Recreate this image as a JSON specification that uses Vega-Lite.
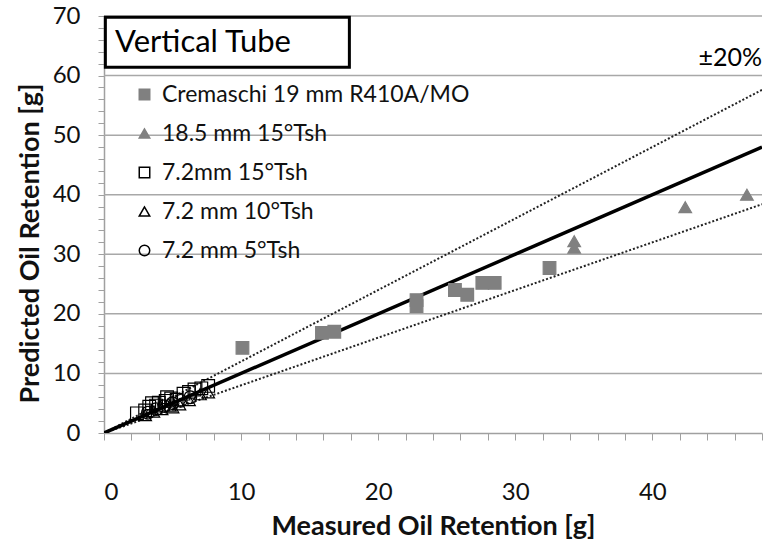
{
  "$schema": "https://vega.github.io/schema/vega-lite/v6.json",
  "width": 658,
  "height": 417,
  "autosize": {"type": "none"},
  "padding": {"left": 104, "top": 16, "right": 5, "bottom": 113},
  "background": "white",
  "config": {
    "font": "Lato",
    "view": {"stroke": null}
  },
  "datasets": {
    "pts": [
      {"series": "Cremaschi 19 mm R410A/MO", "measured": 10.1, "predicted": 14.3},
      {"series": "Cremaschi 19 mm R410A/MO", "measured": 15.9, "predicted": 16.8},
      {"series": "Cremaschi 19 mm R410A/MO", "measured": 16.8, "predicted": 17.0},
      {"series": "Cremaschi 19 mm R410A/MO", "measured": 22.8, "predicted": 21.3},
      {"series": "Cremaschi 19 mm R410A/MO", "measured": 22.8, "predicted": 22.3},
      {"series": "Cremaschi 19 mm R410A/MO", "measured": 25.6, "predicted": 24.0},
      {"series": "Cremaschi 19 mm R410A/MO", "measured": 26.5, "predicted": 23.2},
      {"series": "Cremaschi 19 mm R410A/MO", "measured": 27.6, "predicted": 25.2},
      {"series": "Cremaschi 19 mm R410A/MO", "measured": 28.5, "predicted": 25.2},
      {"series": "Cremaschi 19 mm R410A/MO", "measured": 32.5, "predicted": 27.7},
      {"series": "18.5 mm 15°Tsh", "measured": 34.3, "predicted": 32.2},
      {"series": "18.5 mm 15°Tsh", "measured": 34.3, "predicted": 31.1},
      {"series": "18.5 mm 15°Tsh", "measured": 42.4, "predicted": 37.9},
      {"series": "18.5 mm 15°Tsh", "measured": 46.9, "predicted": 40.0},
      {"series": "7.2mm 15°Tsh", "measured": 2.4, "predicted": 3.3},
      {"series": "7.2mm 15°Tsh", "measured": 3.0, "predicted": 3.8},
      {"series": "7.2mm 15°Tsh", "measured": 3.3, "predicted": 4.4},
      {"series": "7.2mm 15°Tsh", "measured": 3.8, "predicted": 4.6},
      {"series": "7.2mm 15°Tsh", "measured": 4.0, "predicted": 5.1},
      {"series": "7.2mm 15°Tsh", "measured": 4.5, "predicted": 5.4},
      {"series": "7.2mm 15°Tsh", "measured": 4.9, "predicted": 5.8},
      {"series": "7.2mm 15°Tsh", "measured": 5.3, "predicted": 5.6},
      {"series": "7.2mm 15°Tsh", "measured": 5.8, "predicted": 6.6},
      {"series": "7.2mm 15°Tsh", "measured": 6.2, "predicted": 6.9},
      {"series": "7.2mm 15°Tsh", "measured": 6.6, "predicted": 7.3},
      {"series": "7.2mm 15°Tsh", "measured": 7.1, "predicted": 7.5},
      {"series": "7.2mm 15°Tsh", "measured": 7.6, "predicted": 7.9},
      {"series": "7.2mm 15°Tsh", "measured": 3.5, "predicted": 5.0},
      {"series": "7.2mm 15°Tsh", "measured": 4.6, "predicted": 6.0},
      {"series": "7.2 mm 10°Tsh", "measured": 3.0, "predicted": 3.0},
      {"series": "7.2 mm 10°Tsh", "measured": 3.6, "predicted": 3.6},
      {"series": "7.2 mm 10°Tsh", "measured": 4.2, "predicted": 4.0},
      {"series": "7.2 mm 10°Tsh", "measured": 5.0, "predicted": 4.3},
      {"series": "7.2 mm 10°Tsh", "measured": 5.5, "predicted": 4.8},
      {"series": "7.2 mm 10°Tsh", "measured": 6.2, "predicted": 5.5},
      {"series": "7.2 mm 10°Tsh", "measured": 7.0, "predicted": 6.5},
      {"series": "7.2 mm 10°Tsh", "measured": 7.6, "predicted": 6.8},
      {"series": "7.2 mm 10°Tsh", "measured": 4.8, "predicted": 4.6},
      {"series": "7.2 mm 5°Tsh", "measured": 3.2, "predicted": 3.4},
      {"series": "7.2 mm 5°Tsh", "measured": 3.8, "predicted": 4.0},
      {"series": "7.2 mm 5°Tsh", "measured": 4.4, "predicted": 4.5},
      {"series": "7.2 mm 5°Tsh", "measured": 5.0, "predicted": 5.0},
      {"series": "7.2 mm 5°Tsh", "measured": 5.6, "predicted": 5.4},
      {"series": "7.2 mm 5°Tsh", "measured": 6.3, "predicted": 6.0}
    ],
    "lines": [
      {"line": "exact", "measured": 0, "predicted": 0},
      {"line": "exact", "measured": 48, "predicted": 48},
      {"line": "plus20", "measured": 0, "predicted": 0},
      {"line": "plus20", "measured": 48, "predicted": 57.6},
      {"line": "minus20", "measured": 0, "predicted": 0},
      {"line": "minus20", "measured": 48, "predicted": 38.4}
    ],
    "grid": [
      {"predicted": 10}, {"predicted": 20}, {"predicted": 30}, {"predicted": 40},
      {"predicted": 50}, {"predicted": 60}, {"predicted": 70}
    ],
    "box": [{"x1": 0.1, "x2": 17.9, "y1": 61.4, "y2": 69.8}],
    "labels": [
      {"kind": "title", "measured": 0.8, "predicted": 65.5, "text": "Vertical Tube"},
      {"kind": "pct", "measured": 48, "predicted": 63.0, "text": "±20%"}
    ]
  },
  "layer": [
    {
      "data": {"name": "grid"},
      "mark": {"type": "rule", "color": "#a8a8a8", "strokeWidth": 1.5},
      "encoding": {
        "y": {"field": "predicted", "type": "quantitative", "scale": {"domain": [0, 70], "nice": false},
          "axis": {
            "values": [0,2,4,6,8,10,12,14,16,18,20,22,24,26,28,30,32,34,36,38,40,42,44,46,48,50,52,54,56,58,60,62,64,66,68,70],
            "tickCount": 200,
            "format": "d",
            "labelExpr": "datum.value % 10 === 0 ? format(datum.value, 'd') : ''",
            "labelOverlap": false,
            "labelSeparation": 0,
            "grid": false,
            "domainColor": "#a0a0a0", "domainWidth": 1.5,
            "tickColor": "#a0a0a0", "tickSize": 6, "tickWidth": 1,
            "labelFontSize": 24, "labelColor": "#111111", "labelPadding": 18, "labelFont": "Lato",
            "title": "Predicted Oil Retention [g]",
            "titleFontSize": 27, "titleFontWeight": "bold", "titleColor": "#111111", "titlePadding": 8, "titleFont": "Lato",
            "titleY": 227
          }}
      }
    },
    {
      "data": {"name": "lines"},
      "transform": [{"filter": "datum.line !== 'exact'"}],
      "mark": {"type": "line", "color": "#222222", "strokeWidth": 2, "strokeDash": [2, 2], "clip": true},
      "encoding": {
        "x": {"field": "measured", "type": "quantitative", "scale": {"domain": [0, 48], "nice": false},
          "axis": {
            "values": [0,2,4,6,8,10,12,14,16,18,20,22,24,26,28,30,32,34,36,38,40,42,44,46,48],
            "tickCount": 200,
            "format": "d",
            "labelExpr": "datum.value % 10 === 0 ? format(datum.value, 'd') : ''",
            "labelOverlap": false,
            "labelSeparation": 0,
            "grid": false,
            "domainColor": "#a0a0a0", "domainWidth": 1.5,
            "tickColor": "#a0a0a0", "tickSize": 7, "tickWidth": 1,
            "labelFontSize": 24, "labelColor": "#111111", "labelPadding": 40, "labelFont": "Lato",
            "title": "Measured Oil Retention [g]",
            "titleFontSize": 27, "titleFontWeight": "bold", "titleColor": "#111111", "titlePadding": 9, "titleFont": "Lato"
          }},
        "y": {"field": "predicted", "type": "quantitative"},
        "detail": {"field": "line"}
      }
    },
    {
      "data": {"name": "lines"},
      "transform": [{"filter": "datum.line === 'exact'"}],
      "mark": {"type": "line", "color": "#000000", "strokeWidth": 3.5, "clip": true},
      "encoding": {
        "x": {"field": "measured", "type": "quantitative"},
        "y": {"field": "predicted", "type": "quantitative"}
      }
    },
    {
      "data": {"name": "pts"},
      "mark": {"type": "point", "filled": false, "size": 160, "strokeWidth": 1.2, "opacity": 1},
      "encoding": {
        "x": {"field": "measured", "type": "quantitative"},
        "y": {"field": "predicted", "type": "quantitative"},
        "shape": {"field": "series", "type": "nominal",
          "scale": {"domain": ["Cremaschi 19 mm R410A/MO", "18.5 mm 15°Tsh", "7.2mm 15°Tsh", "7.2 mm 10°Tsh", "7.2 mm 5°Tsh"],
                    "range": ["square", "triangle-up", "square", "triangle-up", "circle"]},
          "legend": {
            "orient": "none", "legendX": 29, "legendY": 67, "title": null,
            "labelFontSize": 23, "labelColor": "#111111", "labelFont": "Lato", "labelLimit": 500,
            "symbolSize": 110, "rowPadding": 15, "labelOffset": 6
          }},
        "fill": {"field": "series", "type": "nominal",
          "scale": {"domain": ["Cremaschi 19 mm R410A/MO", "18.5 mm 15°Tsh", "7.2mm 15°Tsh", "7.2 mm 10°Tsh", "7.2 mm 5°Tsh"],
                    "range": ["#808080", "#808080", "transparent", "transparent", "transparent"]}},
        "stroke": {"field": "series", "type": "nominal",
          "scale": {"domain": ["Cremaschi 19 mm R410A/MO", "18.5 mm 15°Tsh", "7.2mm 15°Tsh", "7.2 mm 10°Tsh", "7.2 mm 5°Tsh"],
                    "range": ["#808080", "#808080", "#000000", "#000000", "#000000"]}}
      }
    },
    {
      "data": {"name": "box"},
      "mark": {"type": "rect", "fill": "white", "stroke": "#000000", "strokeWidth": 3},
      "encoding": {
        "x": {"field": "x1", "type": "quantitative"},
        "x2": {"field": "x2"},
        "y": {"field": "y1", "type": "quantitative"},
        "y2": {"field": "y2"}
      }
    },
    {
      "data": {"name": "labels"},
      "transform": [{"filter": "datum.kind === 'title'"}],
      "mark": {"type": "text", "align": "left", "baseline": "middle", "fontSize": 31, "font": "Lato", "color": "#000000"},
      "encoding": {
        "x": {"field": "measured", "type": "quantitative"},
        "y": {"field": "predicted", "type": "quantitative"},
        "text": {"field": "text"}
      }
    },
    {
      "data": {"name": "labels"},
      "transform": [{"filter": "datum.kind === 'pct'"}],
      "mark": {"type": "text", "align": "right", "baseline": "middle", "fontSize": 25, "font": "Lato", "color": "#000000"},
      "encoding": {
        "x": {"field": "measured", "type": "quantitative"},
        "y": {"field": "predicted", "type": "quantitative"},
        "text": {"field": "text"}
      }
    }
  ]
}
